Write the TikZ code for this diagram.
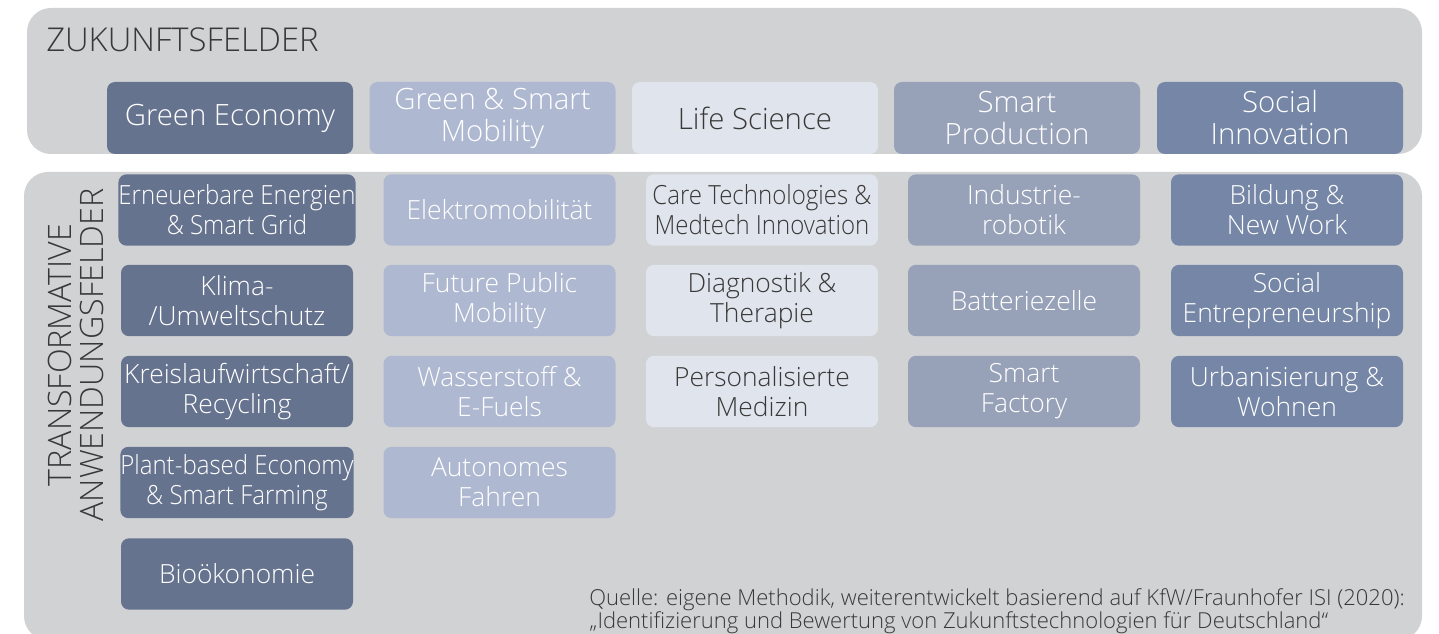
\documentclass[tikz,border=0pt]{standalone}
\usepackage{fontspec}
\IfFontExistsTF{Open Sans Light}
  {\setmainfont{Open Sans Light}}
  {\setmainfont{Open Sans}}
\usepackage{graphicx}

% Farben der Felder
\definecolor{panelgray}{HTML}{D1D2D4}
\definecolor{colA}{HTML}{66738F}
\definecolor{colB}{HTML}{AEB8D0}
\definecolor{colC}{HTML}{E0E4EC}
\definecolor{colD}{HTML}{97A1B8}
\definecolor{colE}{HTML}{7586A6}
\definecolor{darktext}{HTML}{383838}

% schmal gesetzte Zeile
\newcommand{\narrowline}[1]{\scalebox{0.91}[1]{#1}}

\tikzset{
  panel/.style={fill=panelgray, draw=none, rounded corners=18pt},
  field/.style={draw=none, rounded corners=6pt, inner sep=0pt, align=center,
    minimum width=184.5pt, minimum height=54pt, text=white,
    font=\fontsize{22}{24}\selectfont},
  appfield/.style={field, minimum width=174pt, minimum height=53.5pt,
    font=\fontsize{19.8}{22.5}\selectfont},
  heading/.style={text=darktext, inner sep=0pt, font=\fontsize{24.6}{24}\selectfont},
}

\begin{document}
\begin{tikzpicture}[x=0.75pt, y=-0.75pt]
  \useasboundingbox (0,0) rectangle (1439,634);

  % Drawing the two panels
  \fill[panel] (27,8) rectangle (1422,154);
  \fill[panel] (24,172) rectangle (1422,640);

  % Headings
  \node[heading, anchor=west] (zf) at (46,40) {ZUKUNFTSFELDER};
  \node[heading, rotate=90, align=center, font=\fontsize{24.2}{24.5}\selectfont]
    (taf) at (76,355) {TRANSFORMATIVE\\ANWENDUNGSFELDER};

  % Zukunftsfelder
  \node[field, fill=colA] (ge) at (230,118) {Green Economy};
  \node[field, fill=colB] (gsm) at (492.5,118) {Green \& Smart\\Mobility};
  \node[field, fill=colC, text=darktext] (ls) at (755,118) {Life Science};
  \node[field, fill=colD] (sp) at (1017,118) {Smart\\Production};
  \node[field, fill=colE] (si) at (1280,118) {Social\\Innovation};

  % Green Economy
  \node[appfield, fill=colA] (eeg) at (237,210) {\narrowline{Erneuerbare Energien}\\\narrowline{\& Smart Grid}};
  \node[appfield, fill=colA] (kus) at (237,300.5) {Klima-\\/Umweltschutz};
  \node[appfield, fill=colA] (krw) at (237,391.5) {Kreislaufwirtschaft/\\Recycling};
  \node[appfield, fill=colA] (pbe) at (237,482.5) {\narrowline{Plant-based Economy}\\\narrowline{\& Smart Farming}};
  \node[appfield, fill=colA] (bio) at (237,574) {Bioökonomie};

  % Green & Smart Mobility
  \node[appfield, fill=colB] (emo) at (499.5,210) {Elektromobilität};
  \node[appfield, fill=colB] (fpm) at (499.5,300.5) {Future Public\\Mobility};
  \node[appfield, fill=colB] (wef) at (499.5,391.5) {Wasserstoff \&\\E-Fuels};
  \node[appfield, fill=colB] (auf) at (499.5,482.5) {Autonomes\\Fahren};

  % Life Science
  \node[appfield, fill=colC, text=darktext] (ctm) at (762,210) {\narrowline{Care Technologies \&}\\\narrowline{Medtech Innovation}};
  \node[appfield, fill=colC, text=darktext] (dth) at (762,300.5) {Diagnostik \&\\Therapie};
  \node[appfield, fill=colC, text=darktext] (pme) at (762,391.5) {Personalisierte\\Medizin};

  % Smart Production
  \node[appfield, fill=colD] (irb) at (1024,210) {Industrie-\\robotik};
  \node[appfield, fill=colD] (bzl) at (1024,300.5) {Batteriezelle};
  \node[appfield, fill=colD] (sfa) at (1024,391.5) {Smart\\Factory};

  % Social Innovation
  \node[appfield, fill=colE] (bnw) at (1287,210) {Bildung \&\\New Work};
  \node[appfield, fill=colE] (sen) at (1287,300.5) {Social\\Entrepreneurship};
  \node[appfield, fill=colE] (uwo) at (1287,391.5) {Urbanisierung \&\\Wohnen};

  % Quelle
  \node[anchor=north west, inner sep=0pt, align=left, text=darktext,
    font=\fontsize{16.5}{15.6}\selectfont] (src) at (589,588)
    {Quelle: eigene Methodik, weiterentwickelt basierend auf KfW/Fraunhofer ISI (2020):\\
     „Identifizierung und Bewertung von Zukunftstechnologien für Deutschland“};
\end{tikzpicture}
\end{document}
